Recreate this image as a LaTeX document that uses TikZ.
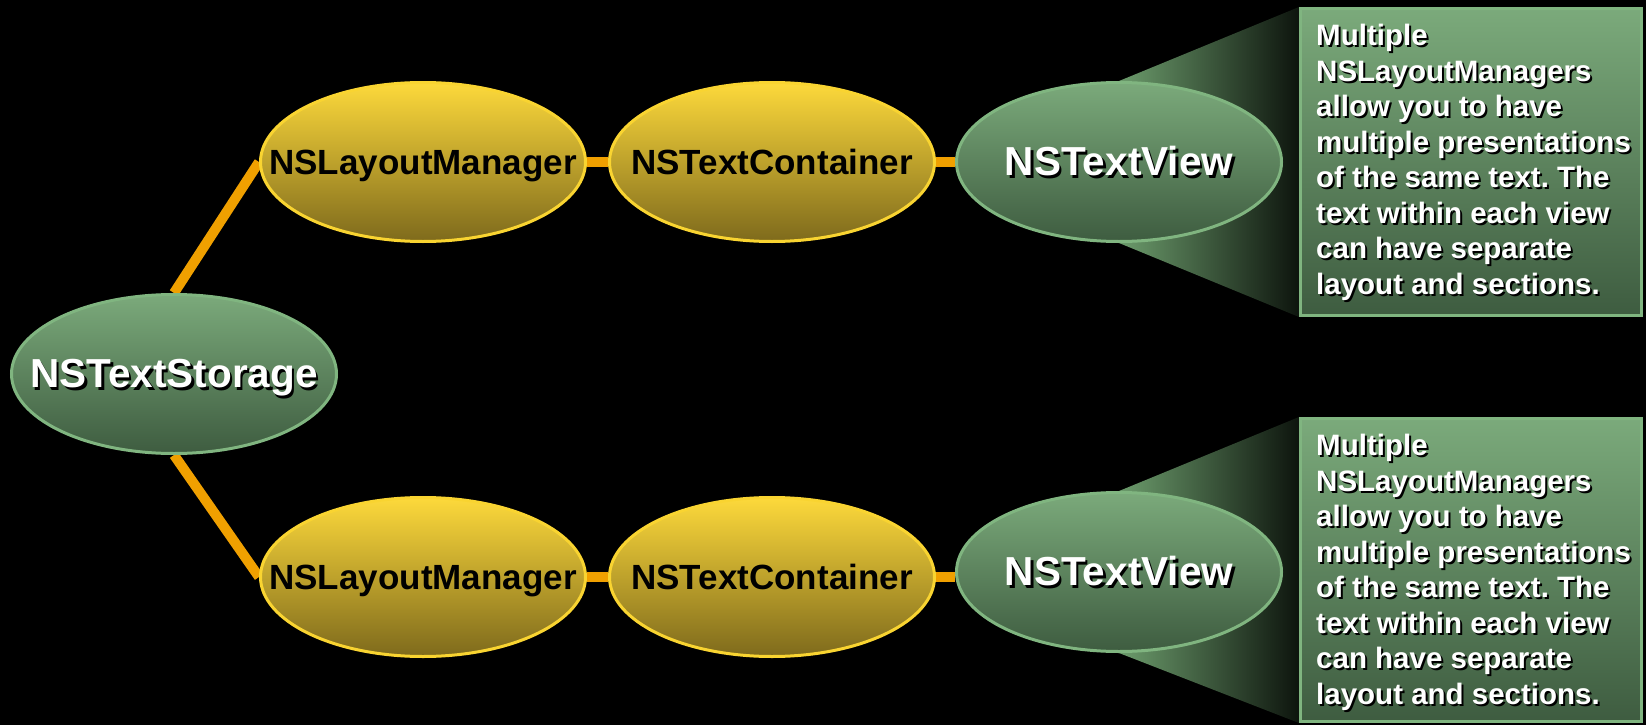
\documentclass[tikz,border=0pt]{standalone}
\usepackage{fontspec}
\setmainfont{Liberation Sans}
\frenchspacing
\usetikzlibrary{shapes.geometric}
\definecolor{gtop}{HTML}{7BAA7B}
\definecolor{gbot}{HTML}{3E5C40}
\definecolor{gborder}{HTML}{80B580}
\definecolor{ytop}{HTML}{FDD93B}
\definecolor{ybot}{HTML}{7E6A1C}
\definecolor{yborder}{HTML}{F9D431}
\definecolor{linkc}{HTML}{F0A000}
\definecolor{trl}{HTML}{6C9C6C}
\definecolor{trr}{HTML}{0D140D}
\pgfdeclarelayer{back}
\pgfdeclarelayer{links}
\pgfsetlayers{back,links,main}
\newcommand\shad[1]{\makebox[0pt]{\vphantom{N}\smash{\makebox[0pt][l]{\kern2.5pt\raisebox{-2.5pt}{\textcolor{black}{#1}}}#1}}}
\newcommand\plain[1]{\makebox[0pt]{\vphantom{N}\smash{#1}}}
\newcommand\shadsm[1]{\makebox[0pt][l]{\kern2pt\raisebox{-2pt}{\textcolor{black}{#1}}}#1}
\tikzset{
  greenell/.style={ellipse, draw=gborder, line width=3pt, top color=gtop, bottom color=gbot,
    minimum width=325pt, minimum height=159pt, inner sep=0pt, text=white,
    font=\fontsize{40.5}{48}\selectfont\bfseries},
  yellell/.style={ellipse, draw=yborder, line width=3pt, top color=ytop, bottom color=ybot,
    minimum width=325pt, minimum height=159pt, inner sep=0pt, text=black,
    font=\fontsize{35}{42}\selectfont\bfseries},
  link/.style={draw=linkc, line width=10pt},
  callbox/.style={rectangle, draw=gborder, line width=3pt, top color=gtop, bottom color=gbot,
    minimum width=341pt, inner sep=0pt},
  calltext/.style={align=left, inner sep=0pt, text=white, anchor=north west,
    font=\fontsize{29.5}{35.5}\selectfont\bfseries},
  trap/.style={left color=trl, right color=trr}
}
\begin{document}
\begin{tikzpicture}[x=1pt,y=-1pt]
\begin{pgfonlayer}{back}
\fill[black] (0,0) rectangle (1646,725);
\end{pgfonlayer}
\useasboundingbox (0,0) rectangle (1646,725);

\node[greenell] (storage) at (174,374) {\shad{NSTextStorage}};

\node[yellell] (lm1) at (423,162) {\plain{NSLayoutManager}};
\node[yellell] (tc1) at (772,162) {\plain{NSTextContainer}};
\node[greenell] (tv1) at (1119,162) {\shad{NSTextView}};

\node[yellell] (lm2) at (423,577) {\plain{NSLayoutManager}};
\node[yellell] (tc2) at (772,577) {\plain{NSTextContainer}};
\node[greenell] (tv2) at (1119,572) {\shad{NSTextView}};

\node[callbox, minimum height=307pt] (box1) at (1471,162) {};
\node[callbox, minimum height=303pt] (box2) at (1471,570) {};

\node[calltext] (txt1) at (1316,24) {\shadsm{Multiple}\\\shadsm{NSLayoutManagers}\\\shadsm{allow you to have}\\\shadsm{multiple presentations}\\\shadsm{of the same text. The}\\\shadsm{text within each view}\\\shadsm{can have separate}\\\shadsm{layout and sections.}};
\node[calltext] (txt2) at (1316,434) {\shadsm{Multiple}\\\shadsm{NSLayoutManagers}\\\shadsm{allow you to have}\\\shadsm{multiple presentations}\\\shadsm{of the same text. The}\\\shadsm{text within each view}\\\shadsm{can have separate}\\\shadsm{layout and sections.}};

\begin{pgfonlayer}{links}
\draw[link] (storage.north) -- (lm1.west);
\draw[link] (storage.south) -- (lm2.west);
\draw[link] (lm1) -- (tc1);
\draw[link] (tc1) -- (tv1);
\draw[link] (lm2) -- (tc2);
\draw[link] (tc2.center) -- (tc2.center -| tv2.west);
\fill[trap] (tv1.north) -- (box1.north west) -- (box1.south west) -- (tv1.south) -- cycle;
\fill[trap] (tv2.north) -- (box2.north west) -- (box2.south west) -- (tv2.south) -- cycle;
\end{pgfonlayer}
\end{tikzpicture}
\end{document}
